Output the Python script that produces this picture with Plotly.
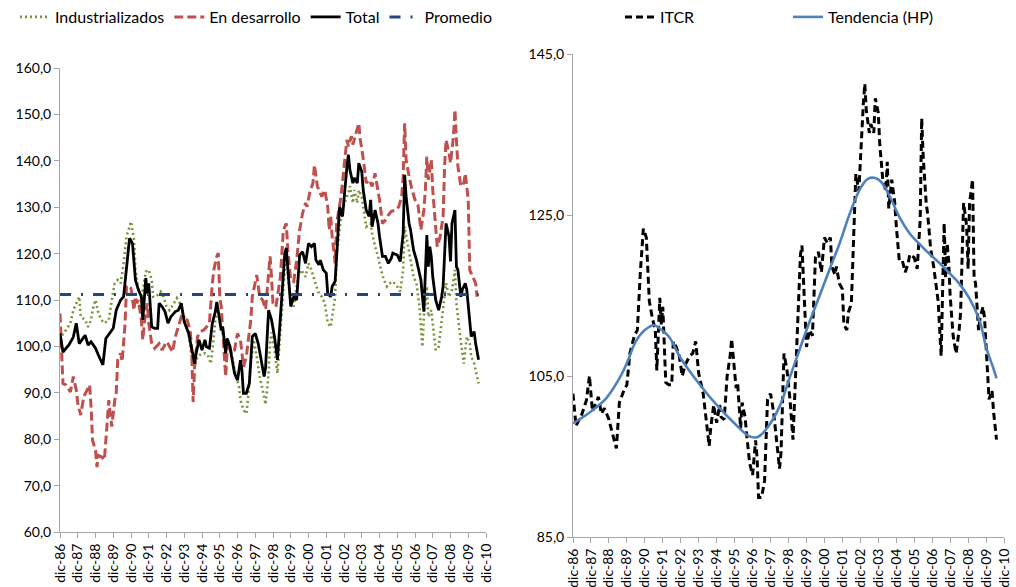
import plotly.graph_objects as go

# Eje X: meses transcurridos desde diciembre de 1986 (0 = dic-86)
anios = list(range(86, 100)) + list(range(0, 11))
etiquetas_x = ["dic-%02d" % a for a in anios]
ticks_x = [12 * i for i in range(len(anios))]

# Tipo de cambio real: socios industrializados
ind_mes = [0, 2, 4, 7, 9, 11, 13, 14, 17, 19, 21, 22, 24, 26, 28, 30, 33, 35, 37, 39,
           41, 43, 45, 47, 48, 50, 51, 53, 55, 56, 58, 60, 62, 63, 65, 68, 70, 72, 74, 77,
           79, 81, 83, 86, 88, 89, 91, 93, 96, 98, 100, 102, 104, 105, 107, 109, 110, 112, 114, 116,
           118, 121, 122, 124, 126, 127, 129, 131, 133, 135, 137, 139, 141, 142, 143, 145, 147, 149, 151, 153,
           154, 156, 158, 161, 163, 166, 168, 170, 172, 175, 177, 179, 181, 183, 184, 186, 187, 189, 190, 193,
           195, 196, 198, 199, 201, 202, 204, 206, 207, 210, 211, 213, 215, 217, 219, 221, 223, 225, 228, 230,
           232, 233, 235, 237, 239, 241, 243, 245, 246, 248, 249, 251, 252, 254, 256, 258, 259, 261, 263, 265,
           267, 268, 270, 272, 273, 275, 277, 278, 280, 282, 283]
ind_val = [101.4, 102.8, 103.5, 105.0, 107.8, 109.3, 110.7, 106.4, 105.7, 104.2, 105.7, 107.8, 110.0, 107.1, 105.7, 105.0, 105.7, 110.0, 113.6, 114.3,
           113.6, 117.9, 123.7, 125.8, 126.9, 122.9, 116.5, 112.2, 110.7, 112.2, 116.1, 116.5, 114.3, 110.7, 110.7, 111.8, 110.7, 108.6, 107.8, 109.3,
           110.4, 109.3, 107.1, 105.0, 100.6, 97.8, 95.6, 97.8, 98.5, 98.5, 98.1, 96.3, 102.1, 105.7, 107.8, 103.5, 103.5, 99.9, 99.9, 98.5,
           94.9, 91.3, 88.4, 86.3, 85.5, 88.4, 96.3, 101.4, 97.8, 93.5, 90.6, 87.5, 94.0, 100.6, 103.0, 99.2, 94.2, 103.5, 113.6, 121.5,
           115.0, 109.3, 108.6, 115.0, 116.5, 115.0, 117.9, 116.5, 114.3, 111.4, 110.7, 109.3, 105.0, 104.2, 106.4, 110.7, 119.4, 125.8, 128.0, 131.6,
           133.0, 134.5, 130.9, 133.7, 130.9, 133.7, 132.3, 128.0, 125.8, 126.5, 124.4, 121.5, 119.4, 116.5, 114.3, 112.9, 113.6, 114.0, 112.9, 111.8,
           116.5, 125.8, 122.2, 119.4, 115.0, 113.6, 108.6, 99.9, 106.4, 112.9, 106.4, 107.8, 105.0, 99.2, 99.9, 105.0, 107.8, 113.6, 110.7, 112.2,
           116.5, 109.3, 103.5, 98.5, 96.3, 102.1, 100.6, 97.8, 96.3, 93.5, 92.0]

# Tipo de cambio real: socios en desarrollo
des_mes = [0, 1, 2, 4, 7, 9, 11, 12, 14, 16, 18, 20, 21, 22, 24, 25, 26, 28, 30, 32,
           33, 35, 36, 37, 38, 39, 41, 42, 44, 45, 46, 48, 50, 51, 52, 53, 55, 56, 57, 59,
           60, 62, 64, 67, 69, 72, 73, 76, 78, 80, 82, 86, 88, 89, 90, 91, 93, 95, 97, 99,
           101, 103, 104, 106, 107, 108, 109, 110, 112, 113, 114, 116, 118, 120, 122, 124, 126, 127, 129, 130,
           132, 133, 135, 137, 139, 141, 142, 143, 144, 146, 149, 151, 153, 154, 156, 158, 160, 162, 164, 166,
           167, 169, 171, 172, 174, 176, 177, 179, 181, 182, 183, 184, 186, 187, 189, 190, 193, 194, 195, 197,
           198, 200, 201, 202, 203, 204, 206, 207, 209, 211, 213, 215, 216, 218, 220, 222, 224, 227, 229, 231,
           232, 233, 234, 236, 238, 240, 242, 244, 246, 247, 248, 249, 251, 252, 254, 255, 257, 259, 260, 261,
           263, 264, 266, 267, 268, 269, 271, 273, 274, 276, 277, 279, 281, 282]
des_val = [107.1, 97.8, 92.0, 91.7, 90.2, 93.5, 90.6, 87.8, 85.2, 89.1, 90.6, 91.7, 87.0, 79.8, 77.6, 74.0, 76.5, 76.2, 75.5, 84.2,
           88.4, 82.7, 86.3, 88.4, 89.9, 97.0, 98.5, 96.7, 105.0, 112.9, 113.2, 112.5, 107.8, 110.7, 109.3, 110.0, 105.7, 101.4, 105.0, 109.3,
           105.0, 100.6, 99.6, 100.6, 99.2, 101.0, 100.6, 98.8, 102.1, 104.2, 106.4, 105.7, 103.5, 99.2, 88.0, 95.6, 102.1, 103.2, 103.5, 104.2,
           105.0, 113.6, 116.5, 119.4, 120.1, 110.7, 108.6, 103.5, 93.5, 99.2, 99.9, 98.5, 99.2, 102.8, 101.4, 95.6, 97.8, 100.6, 105.7, 110.7,
           114.3, 115.4, 110.7, 110.0, 108.0, 115.0, 119.4, 115.0, 109.3, 108.6, 115.0, 125.1, 126.5, 120.8, 114.3, 114.0, 118.6, 125.1, 128.7, 130.9,
           130.1, 133.4, 135.2, 139.1, 134.5, 133.0, 132.3, 133.7, 130.1, 125.1, 128.0, 123.7, 117.9, 126.5, 130.9, 132.3, 141.7, 144.5, 143.1, 145.3,
           143.5, 146.0, 146.7, 148.1, 144.5, 142.7, 138.0, 135.2, 135.9, 134.5, 137.3, 133.7, 131.6, 126.5, 127.2, 128.3, 129.1, 129.4, 130.1, 132.3,
           136.6, 148.1, 140.2, 136.6, 133.7, 131.6, 130.5, 125.1, 129.4, 133.7, 140.9, 135.9, 140.2, 133.7, 125.1, 121.5, 123.7, 128.0, 138.8, 144.5,
           141.7, 139.5, 145.3, 151.0, 144.5, 138.8, 134.5, 135.2, 137.3, 131.6, 116.5, 115.0, 113.6, 110.7]

# Tipo de cambio real total (ITCR)
tot_mes = [0, 2, 6, 9, 11, 13, 17, 19, 21, 24, 26, 29, 31, 34, 36, 38, 41, 43, 45, 47,
           49, 51, 53, 55, 56, 58, 59, 60, 62, 64, 66, 67, 69, 71, 73, 75, 78, 80, 82, 84,
           87, 89, 91, 92, 94, 96, 98, 99, 101, 103, 105, 106, 108, 109, 110, 112, 113, 115, 116, 118,
           120, 122, 123, 124, 126, 128, 130, 132, 134, 136, 138, 139, 141, 143, 145, 147, 149, 150, 152, 153,
           155, 156, 158, 160, 162, 164, 166, 168, 170, 172, 173, 175, 176, 178, 180, 181, 183, 184, 186, 188,
           189, 191, 193, 194, 195, 196, 198, 199, 201, 202, 204, 205, 207, 209, 210, 211, 213, 215, 216, 218,
           220, 222, 224, 225, 228, 230, 232, 233, 234, 236, 237, 239, 241, 242, 244, 246, 247, 248, 249, 250,
           251, 252, 254, 256, 258, 259, 261, 263, 264, 265, 267, 268, 269, 271, 272, 274, 275, 277, 278, 280,
           281, 283]
tot_val = [102.8, 98.8, 100.3, 102.0, 105.0, 100.6, 102.4, 100.3, 101.0, 99.6, 98.1, 96.0, 101.7, 103.2, 103.9, 107.8, 110.0, 110.7, 117.9, 123.3,
           122.2, 114.3, 112.2, 110.7, 105.7, 114.7, 111.4, 113.6, 104.2, 103.9, 103.9, 109.3, 108.6, 107.5, 105.0, 106.4, 107.5, 107.8, 109.3, 105.3,
           102.8, 99.6, 96.3, 98.5, 101.4, 99.2, 101.4, 99.9, 99.6, 105.0, 107.5, 109.6, 105.0, 103.5, 104.2, 98.5, 101.7, 99.9, 97.8, 94.2,
           92.7, 97.0, 94.9, 89.9, 89.9, 92.0, 102.1, 102.8, 100.6, 97.0, 93.5, 95.5, 107.8, 105.7, 102.1, 97.1, 106.4, 109.3, 120.1, 121.2,
           113.6, 108.6, 110.7, 110.0, 119.7, 120.4, 117.9, 122.2, 121.5, 122.2, 118.6, 117.6, 118.6, 116.5, 115.8, 111.4, 110.7, 112.9, 114.0, 124.4,
           130.1, 128.0, 136.6, 138.8, 141.3, 138.0, 135.2, 136.3, 135.2, 139.5, 137.7, 133.7, 129.4, 128.0, 131.6, 125.8, 129.4, 126.5, 123.7, 119.4,
           119.4, 117.9, 119.0, 120.1, 119.7, 118.3, 124.4, 137.0, 132.3, 126.5, 125.1, 120.8, 118.6, 117.2, 114.3, 107.5, 117.9, 124.0, 117.2, 121.5,
           119.4, 115.0, 110.0, 107.8, 110.7, 112.9, 126.5, 123.7, 118.3, 126.5, 129.4, 117.2, 116.5, 110.7, 112.2, 113.6, 112.2, 106.4, 102.1, 103.2,
           100.6, 97.1]

# Promedio del período
promedio = 111.2

# El ITCR del panel derecho es el índice total
itcr_mes = tot_mes
itcr_val = tot_val

# Tendencia de largo plazo (filtro Hodrick-Prescott)
hp_mes = [0, 12, 22, 31, 36, 42, 48, 54, 58, 64, 72, 84, 96, 108, 118, 123, 125, 130, 138, 145,
          152, 158, 164, 172, 178, 185, 192, 197, 202, 206, 212, 218, 225, 232, 238, 245, 252, 258, 265, 272,
          276, 281, 283]
hp_val = [99.1, 100.6, 102.2, 104.7, 106.6, 109.3, 110.7, 111.3, 110.9, 109.9, 107.2, 104.1, 101.4, 99.1, 97.5, 97.4, 97.6, 98.6, 101.2, 104.9,
          108.6, 111.7, 114.6, 118.5, 121.4, 125.2, 128.3, 129.5, 129.6, 129.1, 127.2, 124.8, 122.7, 121.3, 120.2, 119.0, 117.7, 116.5, 114.6, 111.7,
          108.6, 105.9, 104.7]

FUENTE = "Lato"
GRIS_EJE = "#A6A6A6"

fig = go.Figure()

fig.add_trace(go.Scatter(
    x=ind_mes, y=ind_val, name="Industrializados", mode="lines",
    line=dict(color="#77933C", width=2.6, dash="2px,3px"),
    xaxis="x", yaxis="y", legend="legend"))
fig.add_trace(go.Scatter(
    x=des_mes, y=des_val, name="En desarrollo", mode="lines",
    line=dict(color="#C0504D", width=3, dash="9px,4px"),
    xaxis="x", yaxis="y", legend="legend"))
fig.add_trace(go.Scatter(
    x=tot_mes, y=tot_val, name="Total", mode="lines",
    line=dict(color="#000000", width=2.8),
    xaxis="x", yaxis="y", legend="legend"))
fig.add_trace(go.Scatter(
    x=[tot_mes[0], tot_mes[-1]], y=[promedio, promedio], name="Promedio", mode="lines",
    line=dict(color="#1F497D", width=3, dash="11px,10px,2px,10px"),
    xaxis="x", yaxis="y", legend="legend"))

fig.add_trace(go.Scatter(
    x=itcr_mes, y=itcr_val, name="ITCR", mode="lines",
    line=dict(color="#000000", width=3, dash="7px,4px"),
    xaxis="x2", yaxis="y2", legend="legend2"))
fig.add_trace(go.Scatter(
    x=hp_mes, y=hp_val, name="Tendencia (HP)", mode="lines",
    line=dict(color="#4F81BD", width=2.6, shape="spline", smoothing=1.0),
    xaxis="x2", yaxis="y2", legend="legend2"))

W, H = 1016, 587


def px_x(a, b):
    return [a / W, b / W]


def px_y(top, bottom):
    return [1 - bottom / H, 1 - top / H]


eje_x = dict(
    type="linear", tickmode="array", tickvals=ticks_x, ticktext=etiquetas_x,
    tickangle=-90, range=[0, 288], showline=True, linecolor=GRIS_EJE, linewidth=1,
    ticks="outside", ticklen=5, tickcolor=GRIS_EJE, showgrid=False, zeroline=False,
    tickfont=dict(family=FUENTE, size=14, color="#000000"), automargin=False,
)
eje_y = dict(
    showline=True, linecolor=GRIS_EJE, linewidth=1, ticks="outside", ticklen=5,
    tickcolor=GRIS_EJE, showgrid=False, zeroline=False, tickformat=".1f",
    tickfont=dict(family=FUENTE, size=14, color="#000000"), automargin=False,
)

fig.update_layout(
    width=W, height=H,
    margin=dict(l=0, r=0, t=0, b=0),
    paper_bgcolor="white", plot_bgcolor="white",
    separators=",.",
    font=dict(family=FUENTE, color="#000000"),
    xaxis=dict(eje_x, domain=px_x(60, 486), anchor="y"),
    yaxis=dict(eje_y, domain=px_y(68, 532), range=[60, 160], tick0=60, dtick=10, anchor="x"),
    xaxis2=dict(eje_x, domain=px_x(573, 1004), anchor="y2"),
    yaxis2=dict(eje_y, domain=px_y(54, 537), range=[85, 145], tick0=85, dtick=20, anchor="x2"),
    legend=dict(orientation="h", x=15 / W, y=1.0, xanchor="left", yanchor="top",
                font=dict(family=FUENTE, size=16, color="#000000"),
                bgcolor="rgba(0,0,0,0)", itemwidth=30, tracegroupgap=0),
    legend2=dict(orientation="h", x=620 / W, y=1.0, xanchor="left", yanchor="top",
                 font=dict(family=FUENTE, size=16, color="#000000"),
                 bgcolor="rgba(0,0,0,0)", itemwidth=30, entrywidth=123,
                 entrywidthmode="pixels"),
    showlegend=True,
)

fig.write_html("out.html")
